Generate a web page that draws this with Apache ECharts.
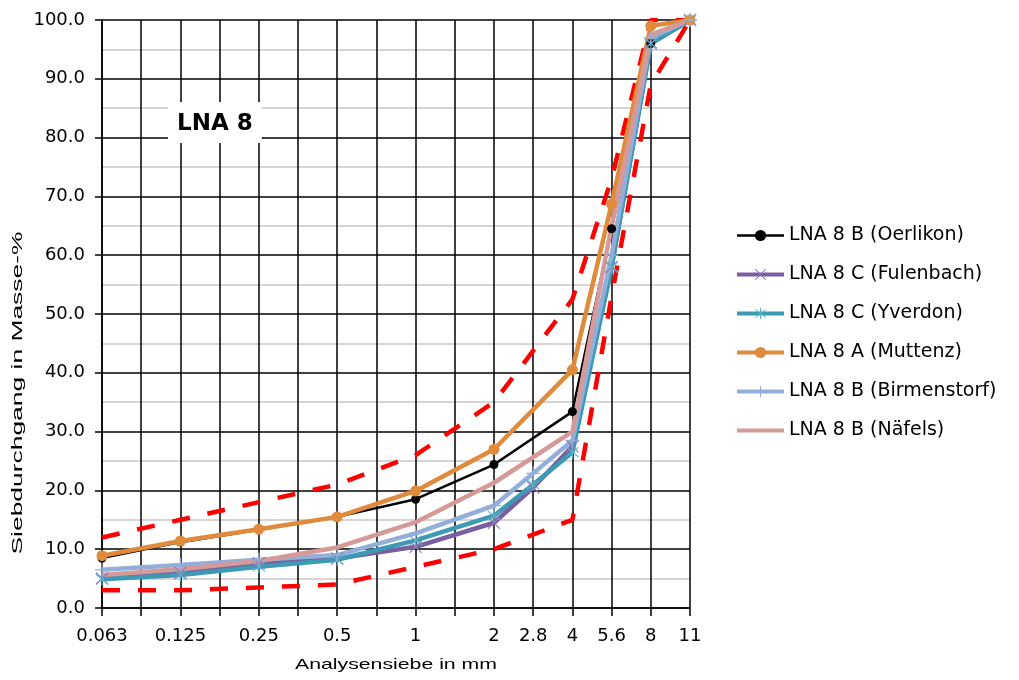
<!DOCTYPE html>
<html>
<head>
<meta charset="utf-8">
<script src="https://cdn.jsdelivr.net/npm/echarts@6/dist/echarts.min.js"></script>
<style>
html,body{margin:0;padding:0;background:#fff;}
#chart{width:1019px;height:680px;}
</style>
</head>
<body>
<div id="chart"></div>
<script>
// Sieve sizes (blank entries are intermediate grid positions)
const categories = ['0.063','','0.125','','0.25','','0.5','','1','','2','2.8','4','5.6','8','11'];
const yTicks = [0,10,20,30,40,50,60,70,80,90,100];

const oerlikon    = [8.5,null,11.2,null,13.3,null,15.5,null,18.5,null,24.4,null,33.4,64.5,96,100];
const fulenbach   = [5.0,null,6.0,null,7.6,null,8.4,null,10.4,null,14.5,20.5,27.5,58,96,100];
const yverdon     = [4.9,null,5.6,null,7.0,null,8.2,null,11.5,null,15.7,21.0,26.5,58,96,100];
const muttenz     = [8.9,null,11.4,null,13.4,null,15.5,null,19.9,null,27.0,null,40.5,68.7,99,100];
const birmenstorf = [6.5,null,7.3,null,8.2,null,9.0,null,12.7,null,17.4,22.9,28.5,60,97,100];
const naefels     = [5.6,null,6.6,null,8.0,null,10.3,null,14.6,null,21.3,null,30.0,65,97.5,100];
const lowerLimit  = [3,null,3,null,3.5,null,4,null,7,null,10,null,15,53,89,100];
const upperLimit  = [12,null,15,null,18,null,21,null,26,null,35,null,52.5,73,100,100];

const seriesNames = ['LNA 8 B (Oerlikon)','LNA 8 C (Fulenbach)','LNA 8 C (Yverdon)','LNA 8 A (Muttenz)','LNA 8 B (Birmenstorf)','LNA 8 B (Näfels)'];
const xName = 'Analysensiebe in mm';
const yName = 'Siebdurchgang in Masse-%';

const WFONT = '"DejaVu Sans", sans-serif';
const plusPath = 'path://M-0.09,-1 L0.09,-1 L0.09,1 L-0.09,1 Z M-1,-0.09 L1,-0.09 L1,0.09 L-1,0.09 Z';
const crossPath = 'path://M-1,-0.87 L-0.87,-1 L1,0.87 L0.87,1 Z M0.87,-1 L1,-0.87 L-0.87,1 L-1,0.87 Z';
const starPath = 'path://M-1,-0.87 L-0.87,-1 L1,0.87 L0.87,1 Z M0.87,-1 L1,-0.87 L-0.87,1 L-1,0.87 Z M-0.09,-1.3 L0.09,-1.3 L0.09,1.3 L-0.09,1.3 Z';
const lineIcon = 'path://M0,0 L47,0 L47,4 L0,4 Z';

// horizontal stretch factor so that a text spans a given length
function stretch(text, font, target) {
  const ctx = document.createElement('canvas').getContext('2d');
  ctx.font = font;
  return target / ctx.measureText(text).width;
}

function lineSeries(name, data, color, width, symbol, size, symColor) {
  return {
    name: name, type: 'line', data: data, connectNulls: true,
    symbol: symbol, symbolSize: size, showSymbol: symbol !== 'none',
    lineStyle: {color: color, width: width},
    itemStyle: {color: symColor || color},
    emphasis: {disabled: true},
    z: 3
  };
}
function limitSeries(name, data) {
  return {
    name: name, type: 'line', data: data, connectNulls: true,
    symbol: 'none', lineStyle: {color: '#ff0000', width: 4.5, type: [18, 18]},
    emphasis: {disabled: true}, z: 2
  };
}

const legendData = seriesNames.map((n, i) => {
  const item = {name: n, lineStyle: {width: i === 0 ? 2.5 : 4}};
  if (i === 5) item.icon = lineIcon;
  return item;
});

const chart = echarts.init(document.getElementById('chart'));
chart.setOption({
  animation: false,
  backgroundColor: '#fff',
  title: {
    text: 'LNA 8', left: 168, top: 102,
    backgroundColor: '#fff', padding: [11, 9, 7, 9],
    textStyle: {fontFamily: WFONT, fontSize: 23, fontWeight: 'bold', color: '#000'}
  },
  grid: {left: 102, right: 329, top: 20, bottom: 72},
  legend: {
    data: legendData, orient: 'vertical', left: 735, top: 226, padding: 0,
    itemWidth: 47, itemHeight: 14, itemGap: 20, symbolKeepAspect: true,
    textStyle: {fontFamily: WFONT, fontSize: 19, color: '#000'}
  },
  xAxis: {
    type: 'category', data: categories, boundaryGap: false,
    axisLine: {lineStyle: {color: '#000', width: 1.5}},
    axisTick: {show: true, interval: 0, length: 8, lineStyle: {color: '#000', width: 1.5}},
    axisLabel: {interval: 0, margin: 19, fontFamily: WFONT, fontSize: 18, color: '#000'},
    splitLine: {show: true, interval: 0, lineStyle: {color: '#000', width: 1.5}}
  },
  yAxis: {
    type: 'value', min: 0, max: 100, interval: 10,
    axisLine: {show: true, lineStyle: {color: '#000', width: 1.5}},
    axisTick: {show: true, length: 7, lineStyle: {color: '#000', width: 1.5}},
    axisLabel: {margin: 17, fontFamily: WFONT, fontSize: 18, color: '#000',
      formatter: v => yTicks.includes(v) ? v.toFixed(1) : ''},
    splitLine: {show: true, lineStyle: {color: '#000', width: 1.5}},
    minorTick: {show: false, splitNumber: 2},
    minorSplitLine: {show: true, lineStyle: {color: '#c8c8c8', width: 1.5}}
  },
  graphic: [{
    type: 'text', x: 396, y: 665,
    scaleX: stretch(xName, '15px "Liberation Sans"', 202),
    style: {text: xName, x: 0, y: 0, align: 'center', verticalAlign: 'middle',
      font: '15px "Liberation Sans"', fill: '#000'}
  }, {
    type: 'text', x: 18, y: 393, rotation: Math.PI / 2,
    scaleX: stretch(yName, '15px "Liberation Sans"', 323),
    style: {text: yName, x: 0, y: 0, align: 'center', verticalAlign: 'middle',
      font: '15px "Liberation Sans"', fill: '#000'}
  }],
  series: [
    limitSeries('lower', lowerLimit),
    limitSeries('upper', upperLimit),
    lineSeries(seriesNames[0], oerlikon, '#000000', 2.5, 'circle', 9),
    lineSeries(seriesNames[1], fulenbach, '#7a5fa0', 4.5, crossPath, 13, '#8e78b8'),
    lineSeries(seriesNames[2], yverdon, '#3c9ab2', 4.5, starPath, 13, '#5ab0c8'),
    lineSeries(seriesNames[3], muttenz, '#e08a3c', 4.5, 'circle', 11),
    lineSeries(seriesNames[4], birmenstorf, '#93aed8', 4.5, plusPath, 14),
    lineSeries(seriesNames[5], naefels, '#d59a98', 4.5, 'none', 0)
  ]
});
</script>
</body>
</html>
